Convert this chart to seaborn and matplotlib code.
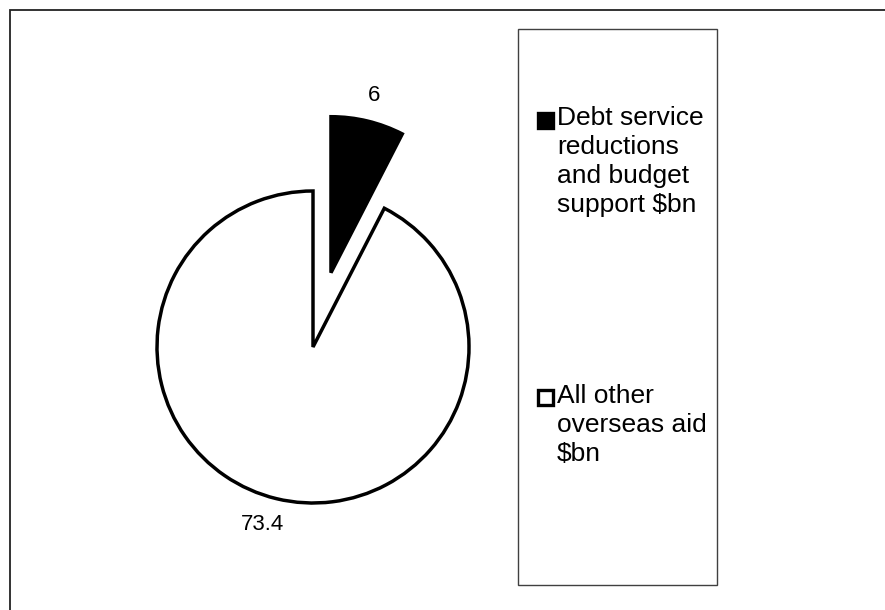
import matplotlib
matplotlib.use("Agg")
import matplotlib.pyplot as plt
from matplotlib.patches import Rectangle
import seaborn as sns

# ---- data ----
categories = ["Debt service\nreductions\nand budget\nsupport $bn",
              "All other\noverseas aid\n$bn"]
values = [6, 73.4]
value_labels = ["6", "73.4"]
slice_colors = ["black", "white"]
explode = [0.49, 0.0]

sns.set_style("white")
plt.rcParams["font.family"] = ["Liberation Sans", "DejaVu Sans"]

W, H = 885, 610
fig = plt.figure(figsize=(W / 100, H / 100), dpi=100)
fig.patch.set_facecolor("white")

def fx(px):
    return px / W

def fy(py):
    return 1 - py / H

# pie axes spanning the figure, 1 data unit = R pixels
cx, cy, R = 313, 347, 156
ax = fig.add_axes([0, 0, 1, 1])
wedges, texts = ax.pie(values, labels=value_labels, colors=slice_colors,
                       explode=explode, startangle=90, counterclock=False,
                       labeldistance=1.17,
                       wedgeprops=dict(edgecolor="black", linewidth=2.5, joinstyle="miter"),
                       textprops=dict(fontsize=16, ha="center", va="center", color="black"))
# nudge the large-slice label slightly left, as in the reference
x1, y1 = texts[1].get_position()
texts[1].set_position((x1 - 8 / R, y1))

ax.set_aspect("auto")
ax.set_xlim(-cx / R, (W - cx) / R)
ax.set_ylim(-(H - cy) / R, cy / R)
ax.axis("off")

# outer frame (only left and top visible in reference)
fig.patches.append(Rectangle((fx(9.5), -0.1), 1.2, fy(9.5) + 0.1,
                             transform=fig.transFigure, fill=False,
                             edgecolor="#222222", linewidth=1.3, zorder=0))

# legend box
fig.patches.append(Rectangle((fx(518), fy(585)), fx(717) - fx(518), fy(29) - fy(585),
                             transform=fig.transFigure, fill=False,
                             edgecolor="#404040", linewidth=1.0, zorder=1))

# legend entries: marker aligned to first text line
entry_tops = [106, 384]
marker_boxes = [(538, 113), (538, 390)]
for cat, col, top, (mx, my) in zip(categories, slice_colors, entry_tops, marker_boxes):
    fig.patches.append(Rectangle((fx(mx), fy(my + 15)), fx(15), 15 / H,
                                 transform=fig.transFigure,
                                 facecolor=col, edgecolor="black",
                                 linewidth=2.4, zorder=2))
    fig.text(fx(557), fy(top), cat, fontsize=19, ha="left", va="top",
             linespacing=1.27, color="black")

fig.savefig("out.png", dpi=100, facecolor="white")
